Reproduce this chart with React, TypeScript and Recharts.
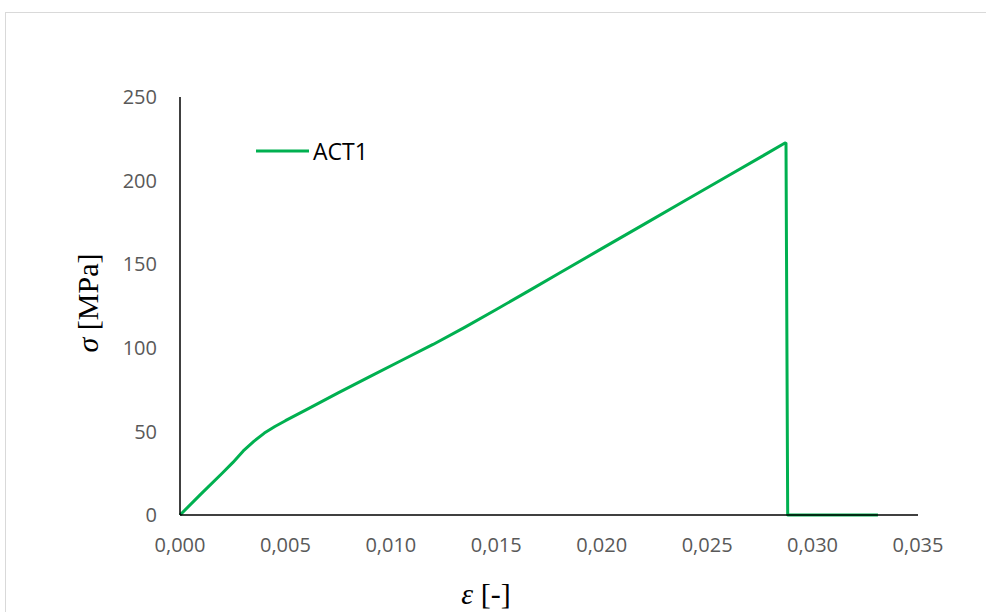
import { LineChart, Line, XAxis, YAxis } from "recharts";

// strain [-] and stress [MPa]
const strain = [
  0, 0.001, 0.002, 0.0025, 0.003, 0.0035, 0.004, 0.0045, 0.005, 0.006,
  0.0075, 0.009, 0.0105, 0.012, 0.0135, 0.015, 0.0166, 0.018, 0.02, 0.022,
  0.024, 0.026, 0.0276, 0.02869, 0.02874, 0.02882, 0.0331,
];
const stress = [
  0, 12.6, 25, 31.3, 38.3, 44, 49, 52.9, 56.4, 63,
  73, 82.8, 92.4, 102, 112.2, 122.9, 134.5, 144.7, 159.3, 173.8,
  188.4, 202.9, 214.5, 222.5, 222.3, 0, 0,
];
const xTicks = [0, 0.005, 0.01, 0.015, 0.02, 0.025, 0.03, 0.035];
const yTicks = [0, 50, 100, 150, 200, 250];
const seriesName = "ACT1";

const data = strain.map((e, i) => ({ e, s: stress[i] }));

const tickStyle = { fontFamily: "'Open Sans', sans-serif", fontSize: 20, fill: "#595959" };

export default function App() {
  return (
    <div style={{ position: "absolute", left: 0, top: 0, width: 986, height: 612, overflow: "hidden", background: "#fff" }}>
      <div style={{ position: "absolute", left: 5, top: 12, width: 1100, height: 800, border: "1px solid #d9d9d9" }} />
      <LineChart
        width={986}
        height={612}
        data={data}
        margin={{ top: 97, right: 68, bottom: 67, left: 140 }}
        style={{ position: "absolute", left: 0, top: 0 }}
      >
        <XAxis
          dataKey="e"
          type="number"
          domain={[0, 0.035]}
          ticks={xTicks}
          tickFormatter={(v: number) => v.toFixed(3).replace(".", ",")}
          tick={tickStyle}
          tickLine={false}
          tickSize={6}
          tickMargin={17}
          height={30}
          axisLine={{ stroke: "#000", strokeWidth: 1.5 }}
        />
        <YAxis
          type="number"
          domain={[0, 250]}
          ticks={yTicks}
          tick={tickStyle}
          tickLine={false}
          tickSize={6}
          tickMargin={17}
          width={40}
          axisLine={{ stroke: "#000", strokeWidth: 1.5 }}
        />
        <Line
          dataKey="s"
          name={seriesName}
          type="linear"
          stroke="#00b050"
          strokeWidth={3}
          strokeLinejoin="round"
          dot={false}
          isAnimationActive={false}
        />
      </LineChart>
      {/* legend */}
      <div
        style={{
          position: "absolute",
          left: 256,
          top: 151,
          transform: "translateY(-50%)",
          display: "flex",
          alignItems: "center",
          fontFamily: "'Open Sans', sans-serif",
          fontSize: 23,
          color: "#000",
        }}
      >
        <svg width={53} height={6}>
          <line x1={0} y1={3} x2={53} y2={3} stroke="#00b050" strokeWidth={3} />
        </svg>
        <span style={{ marginLeft: 4 }}>{seriesName}</span>
      </div>
      <div
        style={{
          position: "absolute",
          left: 88,
          top: 303,
          transform: "translate(-50%, -50%) rotate(-90deg)",
          fontFamily: "'Liberation Serif', serif",
          fontSize: 30,
          whiteSpace: "nowrap",
          color: "#000",
        }}
      >
        <i>σ</i> [MPa]
      </div>
      <div
        style={{
          position: "absolute",
          left: 486,
          top: 594,
          transform: "translate(-50%, -50%)",
          fontFamily: "'Liberation Serif', serif",
          fontSize: 30,
          whiteSpace: "nowrap",
          color: "#000",
        }}
      >
        <i>ε</i> [-]
      </div>
    </div>
  );
}
